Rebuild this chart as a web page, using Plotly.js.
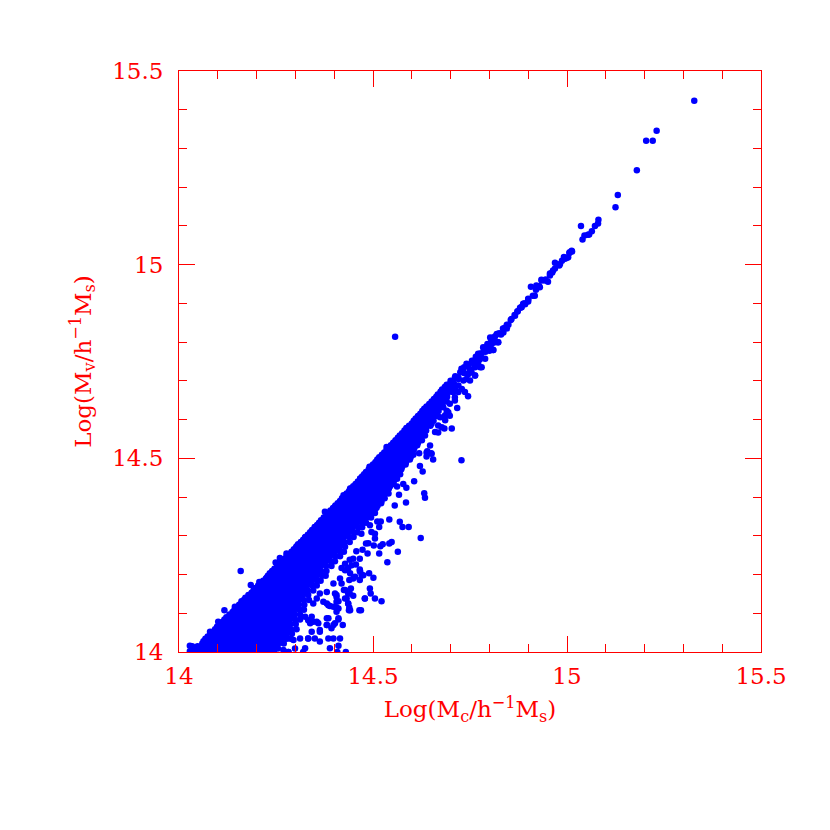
<!DOCTYPE html>
<html>
<head>
<meta charset="utf-8">
<script src="https://cdn.plot.ly/plotly-3.0.1.min.js"></script>
<style>
  html, body { margin: 0; padding: 0; background: #fff; }
</style>
</head>
<body>
<div id="plot"></div>
<script>
const tickValues = [14, 14.5, 15, 15.5];
const tickLabels = ['14', '14.5', '15', '15.5'];

const coreY = [14.003,14.015,14.028,14.04,14.053,14.065,14.078,14.09,14.103,14.115,14.128,14.14,14.153,14.165,14.178,14.19,14.203,14.215,14.228,14.24,14.253,14.265,14.278,14.29,14.303,14.315,14.328,14.34,14.353,14.365,14.378,14.39,14.403,14.415,14.428,14.44,14.453,14.465,14.478,14.49,14.503,14.515,14.528,14.54,14.553,14.565,14.578,14.59,14.603,14.615,14.628,14.64,14.653,14.665,14.678,14.69];
const coreX = [
  [14.035,14.049,14.063,14.077,14.091,14.105,14.119,14.133,14.147,14.161,14.175,14.189,14.203,14.217,14.231,14.245],
  [14.034,14.048,14.07,14.084,14.098,14.112,14.126,14.14,14.154,14.168,14.182,14.196,14.21,14.224,14.238,14.252],
  [14.063,14.077,14.091,14.105,14.119,14.133,14.147,14.161,14.175,14.189,14.203,14.217,14.231,14.245,14.259],
  [14.074,14.088,14.102,14.116,14.13,14.144,14.158,14.172,14.186,14.2,14.214,14.228,14.242,14.256,14.27],
  [14.089,14.103,14.117,14.131,14.145,14.159,14.173,14.187,14.201,14.215,14.229,14.243,14.257,14.271,14.284],
  [14.098,14.112,14.126,14.14,14.154,14.168,14.182,14.196,14.21,14.224,14.238,14.252,14.266,14.28],
  [14.113,14.127,14.141,14.155,14.169,14.183,14.197,14.211,14.225,14.239,14.253,14.267,14.281],
  [14.122,14.136,14.15,14.164,14.178,14.192,14.206,14.22,14.234,14.248,14.262,14.276,14.29],
  [14.138,14.152,14.166,14.18,14.194,14.208,14.222,14.236,14.25,14.264,14.278,14.292],
  [14.149,14.163,14.177,14.191,14.205,14.219,14.233,14.247,14.261,14.275,14.289,14.303],
  [14.162,14.176,14.19,14.204,14.218,14.232,14.246,14.26,14.274,14.288,14.302],
  [14.171,14.185,14.199,14.213,14.227,14.241,14.255,14.269,14.283,14.297,14.311],
  [14.187,14.201,14.215,14.229,14.243,14.257,14.271,14.285,14.299,14.313,14.325],
  [14.197,14.211,14.225,14.239,14.253,14.267,14.281,14.295,14.309,14.323],
  [14.21,14.224,14.238,14.252,14.266,14.28,14.294,14.308,14.322,14.336],
  [14.224,14.238,14.252,14.266,14.28,14.294,14.308,14.322,14.336,14.347],
  [14.234,14.248,14.262,14.276,14.29,14.304,14.318,14.332,14.346,14.358],
  [14.246,14.26,14.274,14.288,14.302,14.316,14.33,14.344,14.358],
  [14.26,14.274,14.288,14.302,14.316,14.33,14.344,14.358,14.372],
  [14.271,14.285,14.299,14.313,14.327,14.341,14.355,14.369,14.383],
  [14.283,14.297,14.311,14.325,14.339,14.353,14.367,14.381,14.395],
  [14.296,14.31,14.324,14.338,14.352,14.366,14.38,14.394,14.405],
  [14.307,14.321,14.335,14.349,14.363,14.377,14.391,14.405,14.414],
  [14.32,14.334,14.348,14.362,14.376,14.39,14.404,14.418],
  [14.332,14.346,14.36,14.374,14.388,14.402,14.416,14.43],
  [14.343,14.357,14.371,14.385,14.399,14.413,14.427,14.441],
  [14.356,14.37,14.384,14.398,14.412,14.426,14.44,14.454],
  [14.366,14.38,14.394,14.408,14.422,14.436,14.45,14.464,14.478],
  [14.38,14.394,14.408,14.422,14.436,14.45,14.464,14.478,14.49],
  [14.39,14.404,14.418,14.432,14.446,14.46,14.474,14.488,14.5],
  [14.403,14.417,14.431,14.445,14.459,14.473,14.487,14.501,14.512],
  [14.415,14.429,14.443,14.457,14.471,14.485,14.499,14.513,14.522],
  [14.426,14.44,14.454,14.468,14.482,14.496,14.51,14.524],
  [14.438,14.452,14.466,14.48,14.494,14.508,14.522,14.534],
  [14.449,14.463,14.477,14.491,14.505,14.519,14.533,14.544],
  [14.461,14.475,14.489,14.503,14.517,14.531,14.545,14.553],
  [14.472,14.486,14.5,14.514,14.528,14.542,14.556],
  [14.482,14.496,14.51,14.524,14.538,14.552,14.566],
  [14.495,14.509,14.523,14.537,14.551,14.565,14.575],
  [14.506,14.52,14.534,14.548,14.562,14.576,14.585],
  [14.516,14.53,14.544,14.558,14.572,14.586,14.597],
  [14.529,14.543,14.557,14.571,14.585,14.6],
  [14.54,14.554,14.568,14.582,14.596,14.607],
  [14.552,14.566,14.58,14.594,14.608,14.616],
  [14.564,14.578,14.592,14.606,14.62],
  [14.575,14.589,14.603,14.617,14.628],
  [14.586,14.6,14.614,14.628,14.636],
  [14.6,14.614,14.628,14.642],
  [14.61,14.624,14.638,14.65],
  [14.622,14.636,14.65,14.658],
  [14.632,14.646,14.66,14.668],
  [14.645,14.659,14.672],
  [14.657,14.671,14.682],
  [14.667,14.681,14.69],
  [14.678,14.692],
  [14.69,14.702]
];

// more of the dense part, sitting between the rows above
const fillY = [14.009,14.022,14.034,14.047,14.059,14.072,14.084,14.097,14.109,14.122,14.134,14.147,14.159,14.172,14.184,14.197,14.209,14.222,14.234,14.247,14.259,14.272,14.284,14.297,14.309,14.322,14.334,14.347,14.359,14.372,14.384,14.397,14.409,14.422,14.434,14.447,14.459,14.472,14.484,14.497,14.509,14.522,14.534,14.547,14.559,14.572,14.584,14.597,14.609,14.622,14.634,14.647,14.659,14.672,14.684];
const fillX = [
  [14.045,14.059,14.073,14.087,14.101,14.115,14.129,14.143,14.157,14.171,14.185,14.199,14.213,14.227,14.241,14.255],
  [14.06,14.074,14.088,14.102,14.116,14.13,14.144,14.158,14.172,14.186,14.2,14.214,14.228,14.242,14.256,14.27],
  [14.068,14.082,14.096,14.11,14.124,14.138,14.152,14.166,14.18,14.194,14.208,14.222,14.236,14.25,14.264,14.278,14.288],
  [14.081,14.095,14.109,14.123,14.137,14.151,14.165,14.179,14.193,14.207,14.221,14.235,14.249,14.263,14.277,14.291],
  [14.093,14.107,14.121,14.135,14.149,14.163,14.177,14.191,14.205,14.219,14.233,14.247,14.261,14.275,14.289,14.303],
  [14.105,14.119,14.133,14.147,14.161,14.175,14.189,14.203,14.217,14.231,14.245,14.259,14.273,14.287,14.301],
  [14.117,14.131,14.145,14.159,14.173,14.187,14.201,14.215,14.229,14.243,14.257,14.271,14.285,14.299,14.312],
  [14.13,14.144,14.158,14.172,14.186,14.2,14.214,14.228,14.242,14.256,14.27,14.284,14.298,14.312],
  [14.143,14.157,14.171,14.185,14.199,14.213,14.227,14.241,14.255,14.269,14.283,14.297,14.311,14.322],
  [14.155,14.169,14.183,14.197,14.211,14.225,14.239,14.253,14.267,14.281,14.295,14.309,14.323],
  [14.167,14.181,14.195,14.209,14.223,14.237,14.251,14.265,14.279,14.293,14.307,14.321,14.335],
  [14.179,14.193,14.207,14.221,14.235,14.249,14.263,14.277,14.291,14.305,14.319,14.333],
  [14.192,14.206,14.22,14.234,14.248,14.262,14.276,14.29,14.304,14.318,14.332,14.346],
  [14.204,14.218,14.232,14.246,14.26,14.274,14.288,14.302,14.316,14.33,14.344,14.355],
  [14.217,14.231,14.245,14.259,14.273,14.287,14.301,14.315,14.329,14.343,14.357,14.365],
  [14.229,14.243,14.257,14.271,14.285,14.299,14.313,14.327,14.341,14.355,14.369,14.378],
  [14.24,14.254,14.268,14.282,14.296,14.31,14.324,14.338,14.352,14.366,14.38],
  [14.253,14.267,14.281,14.295,14.309,14.323,14.337,14.351,14.365,14.379,14.393],
  [14.265,14.279,14.293,14.307,14.321,14.335,14.349,14.363,14.377,14.391,14.402],
  [14.277,14.291,14.305,14.319,14.333,14.347,14.361,14.375,14.389,14.403,14.415],
  [14.29,14.304,14.318,14.332,14.346,14.36,14.374,14.388,14.402,14.416,14.425],
  [14.302,14.316,14.33,14.344,14.358,14.372,14.386,14.4,14.414,14.428],
  [14.314,14.328,14.342,14.356,14.37,14.384,14.398,14.412,14.426,14.44],
  [14.326,14.34,14.354,14.368,14.382,14.396,14.41,14.424,14.438,14.45],
  [14.338,14.352,14.366,14.38,14.394,14.408,14.422,14.436,14.45,14.46],
  [14.35,14.364,14.378,14.392,14.406,14.42,14.434,14.448,14.462,14.472],
  [14.361,14.375,14.389,14.403,14.417,14.431,14.445,14.459,14.473,14.482],
  [14.373,14.387,14.401,14.415,14.429,14.443,14.457,14.471,14.485,14.495],
  [14.385,14.399,14.413,14.427,14.441,14.455,14.469,14.483,14.497,14.505],
  [14.397,14.411,14.425,14.439,14.453,14.467,14.481,14.495,14.509],
  [14.409,14.423,14.437,14.451,14.465,14.479,14.493,14.507,14.521],
  [14.42,14.434,14.448,14.462,14.476,14.49,14.504,14.518,14.53],
  [14.432,14.446,14.46,14.474,14.488,14.502,14.516,14.53,14.54],
  [14.443,14.457,14.471,14.485,14.499,14.513,14.527,14.541],
  [14.455,14.469,14.483,14.497,14.511,14.525,14.539,14.553],
  [14.467,14.481,14.495,14.509,14.523,14.537,14.551,14.562],
  [14.477,14.491,14.505,14.519,14.533,14.547,14.561,14.57],
  [14.489,14.503,14.517,14.531,14.545,14.559,14.573],
  [14.5,14.514,14.528,14.542,14.556,14.57,14.584],
  [14.511,14.525,14.539,14.553,14.567,14.581,14.595],
  [14.523,14.537,14.551,14.565,14.579,14.593,14.604],
  [14.535,14.549,14.563,14.577,14.591,14.605],
  [14.546,14.56,14.574,14.588,14.602,14.614],
  [14.558,14.572,14.586,14.6,14.614,14.626],
  [14.569,14.583,14.597,14.611,14.625,14.634],
  [14.581,14.595,14.609,14.623,14.637],
  [14.593,14.607,14.621,14.635,14.648],
  [14.605,14.619,14.633,14.647,14.656],
  [14.616,14.63,14.644,14.658,14.666],
  [14.627,14.641,14.655,14.669],
  [14.638,14.652,14.666,14.68],
  [14.651,14.665,14.679,14.69],
  [14.663,14.677,14.691],
  [14.674,14.688,14.702],
  [14.685,14.699,14.712]
];

// bumps along the upper edge of the band
const edgeX = [14.028,14.028,14.08,14.101,14.144,14.161,14.185,14.207,14.226,14.277,14.305,14.325,14.35,14.376,14.402,14.424,14.441,14.467,14.491,14.509,14.535,14.557,14.587,14.613,14.638];
const edgeY = [14.016,14.002,14.052,14.078,14.117,14.131,14.173,14.181,14.192,14.254,14.274,14.296,14.323,14.362,14.375,14.405,14.422,14.448,14.478,14.492,14.529,14.542,14.564,14.598,14.632];

// narrow strip and the few top clusters
const stripX = [14.7,14.712,14.725,14.735,14.745,14.755,14.765,14.775,14.785,14.795,14.805,14.815,14.825,14.835,14.845,14.855,14.865,14.873,14.882,14.892,14.9,14.71,14.72,14.735,14.75,14.76,14.775,14.79,14.8,14.815,14.83,14.845,14.879,14.89,14.9,14.912,14.907,14.92,14.928,14.935,14.945,14.951,14.956,14.962,14.969,14.969,14.98,14.987,14.992,15,15.006,15.013,15.036,15.04,15.045,15.054,15.057,15.064,15.072,15.08,15.081,15.125,15.131,15.18,15.204,15.221,15.231,15.328,
  14.707,14.72,14.733,14.746,14.763,14.78,14.795,14.81,14.827,14.84,14.857,14.872,14.892,14.698,14.694,14.711,14.737,14.75,14.763,14.776,14.789,14.81,14.823,14.836,14.849,14.866,14.883,14.681,14.664,14.673,14.651,14.655,14.686,14.72,14.733,14.746,14.763,14.789,14.806,
  14.741,14.754,14.771,14.8,14.776,14.707,14.72,14.729,14.698,14.711,14.69,14.668,14.686,14.677,14.66,14.711,14.728,14.741,14.698,14.681,14.655,14.634,14.613,14.802,14.819,14.784,14.771,
  14.887,14.9,14.917,14.93,14.943,14.956,14.964,14.982,14.995,15.007,15.012,14.921,14.934,15.003];
const stripY = [14.7,14.712,14.722,14.735,14.74,14.752,14.762,14.77,14.785,14.795,14.805,14.815,14.823,14.835,14.845,14.857,14.87,14.88,14.89,14.898,14.905,14.69,14.705,14.72,14.73,14.745,14.755,14.775,14.79,14.8,14.82,14.835,14.889,14.9,14.91,14.92,14.943,14.935,14.945,14.959,14.962,14.956,14.977,14.98,14.99,15.005,14.998,15.01,15.02,15.018,15.03,15.034,15.1,15.065,15.075,15.077,15.078,15.086,15.1,15.106,15.116,15.148,15.18,15.244,15.32,15.32,15.346,15.423,
  14.696,14.708,14.722,14.74,14.754,14.771,14.791,14.812,14.821,14.837,14.86,14.879,14.9,14.61,14.619,14.658,14.671,14.701,14.714,14.735,14.757,14.78,14.8,14.825,14.845,14.868,14.89,14.632,14.623,14.606,14.589,14.606,14.611,14.688,14.701,14.718,14.735,14.778,14.795,
  14.705,14.722,14.744,14.778,14.761,14.671,14.671,14.679,14.641,14.649,14.623,14.585,14.598,14.58,14.568,14.708,14.731,14.744,14.692,14.666,14.645,14.623,14.598,14.812,14.821,14.787,14.77,
  14.899,14.912,14.92,14.942,14.959,14.972,14.985,15.002,15.015,15.032,15.036,14.946,14.961,15.019];

// scattered points off the main band
const looseX = [14.557,14.159,14.117,14.26,14.249,14.745,14.717,14.703,14.684,14.668,14.728,14.655,14.65,14.638,14.638,14.619,14.621,14.647,14.78,14.763,14.81,14.822,14.623,14.592,14.576,14.569,14.542,14.585,14.556,14.634,14.632,14.606,14.586,14.578,14.567,14.562,14.628,14.651,14.64,14.564,14.548,14.542,14.525,14.519,14.516,14.502,14.488,14.482,14.486,14.473,14.457,14.537,14.466,14.449,14.44,14.456,14.436,14.419,14.466,14.505,14.505,14.496,14.516,14.52,14.511,14.492,14.47,14.522,14.505,14.494,14.492,14.479,14.501,14.49,14.469,14.465,14.475,14.466,14.466,14.449,14.439,14.443,14.425,14.436,14.449,14.428,14.436,14.438,14.439,14.411,14.406,14.381,14.389,14.406,14.406,14.385,14.411,14.422,14.402,14.393,14.363,14.381,14.415,14.398,14.385,14.363,14.35,14.333,14.411,14.389,14.408,14.43,14.325,14.32,14.282,14.271,14.338,14.342,14.355,
  14.325,14.333,14.346,14.359,14.363,14.381,14.398,14.411,14.381,14.342,14.333,14.312,14.295,14.299,14.282,14.269,14.346,14.363,14.381,14.355,14.372,14.385,14.398,14.406,14.411,14.402,14.398,14.415,14.419,14.406,14.428,14.44,14.432,14.436,14.441,14.428,14.441,14.454,14.428,14.445,14.467,14.471,14.479];
const looseY = [14.814,14.209,14.108,14.243,14.231,14.66,14.63,14.577,14.577,14.567,14.495,14.497,14.513,14.515,14.505,14.513,14.48,14.533,14.735,14.714,14.78,14.8,14.294,14.323,14.323,14.336,14.342,14.386,14.378,14.398,14.41,14.441,14.424,14.434,14.406,14.427,14.466,14.512,14.518,14.259,14.284,14.28,14.278,14.273,14.254,14.275,14.281,14.28,14.254,14.264,14.26,14.232,14.241,14.241,14.238,14.226,14.217,14.217,14.213,14.293,14.305,14.31,14.323,14.337,14.337,14.327,14.305,14.131,14.138,14.151,14.164,14.138,14.192,14.203,14.108,14.108,14.198,14.209,14.186,14.19,14.186,14.164,14.16,14.151,14.145,14.138,14.125,14.108,14.115,14.131,14.147,14.125,14.119,14.115,14.104,14.087,14.087,14.07,14.074,14.061,14.052,14.07,14.035,14.035,14.035,14.027,14.035,14.035,14.016,14.01,14,14,14.01,14,14,14,14.074,14.091,14.078,
  14.091,14.082,14.078,14.074,14.057,14.07,14.07,14.084,14.087,14.052,14.035,14.035,14.031,14.009,14,14.005,14.125,14.151,14.155,14.138,14.13,14.121,14.117,14.13,14.112,14.151,14.177,14.19,14.177,14.142,14.16,14.151,14.138,14.125,14.108,14.211,14.203,14.194,14.228,14.224,14.207,14.198,14.138];

const xs = [], ys = [];
coreX.forEach((row, i) => row.forEach(v => { xs.push(v); ys.push(coreY[i]); }));
fillX.forEach((row, i) => row.forEach(v => { xs.push(v); ys.push(fillY[i]); }));
edgeX.forEach((v, i) => { xs.push(v); ys.push(edgeY[i]); });
stripX.forEach((v, i) => { xs.push(v); ys.push(stripY[i]); });
looseX.forEach((v, i) => { xs.push(v); ys.push(looseY[i]); });

const red = '#ff0000';
const font = { family: '"DejaVu Serif", serif', size: 23, color: red };

function axis(titleText, standoff) {
  return {
    range: [14, 15.5],
    autorange: false,
    showgrid: false,
    zeroline: false,
    showline: true,
    linecolor: red,
    linewidth: 1,
    mirror: 'allticks',
    ticks: 'inside',
    ticklen: 16,
    tickwidth: 1,
    tickcolor: red,
    tickmode: 'array',
    tickvals: tickValues,
    ticktext: tickLabels,
    tickfont: font,
    minor: { dtick: 0.1, tick0: 14, ticks: 'inside', ticklen: 8, tickwidth: 1, tickcolor: red, showgrid: false },
    title: { text: titleText, font: { family: font.family, size: 23, color: red }, standoff: standoff },
    automargin: false
  };
}

const xaxis = axis('Log(M<sub>c</sub>/h<sup>−1</sup>M<sub>s</sub>)', 13);
xaxis.ticklabelstandoff = 3;
const yaxis = axis('Log(M<sub>v</sub>/h<sup>−1</sup>M<sub>s</sub>)', 14);
yaxis.ticklabelstandoff = 10;

Plotly.newPlot('plot', [{
  type: 'scatter',
  mode: 'markers',
  x: xs,
  y: ys,
  marker: { color: '#0000ff', size: 6.5, line: { width: 0 } },
  hoverinfo: 'skip'
}], {
  width: 830,
  height: 830,
  margin: { l: 179, r: 69, t: 71, b: 178 },
  paper_bgcolor: '#fff',
  plot_bgcolor: '#fff',
  showlegend: false,
  xaxis: xaxis,
  yaxis: yaxis
}, { displayModeBar: false, staticPlot: true });
</script>
</body>
</html>
